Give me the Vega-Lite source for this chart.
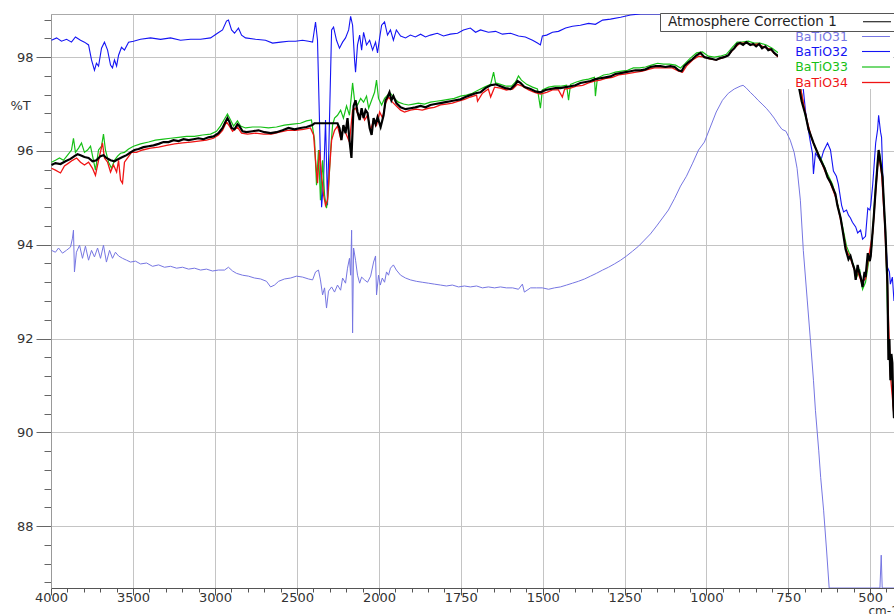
{
"$schema": "https://vega.github.io/schema/vega-lite/v6.json",
"width": 843, "height": 574,
"autosize": "none",
"padding": {"left": 51, "top": 14, "right": 0, "bottom": 26},
"background": "white",
"config": {"font": "DejaVu Sans", "view": {"stroke": "#aaaaaa", "strokeWidth": 1}, "axis": {"labelFont": "DejaVu Sans", "titleFont": "DejaVu Sans"}, "legend": {"labelFont": "DejaVu Sans"}},
"data": {"values": [
{"s":"BaTiO31","w":3997,"t":93.88},{"s":"BaTiO31","w":3973,"t":93.84},{"s":"BaTiO31","w":3954,"t":93.93},{"s":"BaTiO31","w":3930,"t":93.82},{"s":"BaTiO31","w":3906,"t":93.88},{"s":"BaTiO31","w":3881,"t":93.95},{"s":"BaTiO31","w":3869,"t":94.14},{"s":"BaTiO31","w":3863,"t":94.31},{"s":"BaTiO31","w":3857,"t":93.42},{"s":"BaTiO31","w":3845,"t":93.84},{"s":"BaTiO31","w":3826,"t":93.99},{"s":"BaTiO31","w":3808,"t":93.71},{"s":"BaTiO31","w":3790,"t":93.97},{"s":"BaTiO31","w":3771,"t":93.67},{"s":"BaTiO31","w":3753,"t":93.88},{"s":"BaTiO31","w":3735,"t":93.74},{"s":"BaTiO31","w":3716,"t":93.93},{"s":"BaTiO31","w":3698,"t":93.71},{"s":"BaTiO31","w":3680,"t":93.99},{"s":"BaTiO31","w":3662,"t":93.63},{"s":"BaTiO31","w":3643,"t":93.88},{"s":"BaTiO31","w":3625,"t":93.71},{"s":"BaTiO31","w":3607,"t":93.84},{"s":"BaTiO31","w":3588,"t":93.76},{"s":"BaTiO31","w":3564,"t":93.71},{"s":"BaTiO31","w":3539,"t":93.67},{"s":"BaTiO31","w":3515,"t":93.63},{"s":"BaTiO31","w":3485,"t":93.65},{"s":"BaTiO31","w":3454,"t":93.59},{"s":"BaTiO31","w":3417,"t":93.61},{"s":"BaTiO31","w":3381,"t":93.54},{"s":"BaTiO31","w":3344,"t":93.57},{"s":"BaTiO31","w":3308,"t":93.52},{"s":"BaTiO31","w":3271,"t":93.54},{"s":"BaTiO31","w":3234,"t":93.5},{"s":"BaTiO31","w":3198,"t":93.52},{"s":"BaTiO31","w":3161,"t":93.48},{"s":"BaTiO31","w":3125,"t":93.5},{"s":"BaTiO31","w":3088,"t":93.46},{"s":"BaTiO31","w":3052,"t":93.48},{"s":"BaTiO31","w":3015,"t":93.44},{"s":"BaTiO31","w":2979,"t":93.46},{"s":"BaTiO31","w":2942,"t":93.46},{"s":"BaTiO31","w":2918,"t":93.52},{"s":"BaTiO31","w":2893,"t":93.44},{"s":"BaTiO31","w":2869,"t":93.39},{"s":"BaTiO31","w":2832,"t":93.35},{"s":"BaTiO31","w":2796,"t":93.33},{"s":"BaTiO31","w":2759,"t":93.29},{"s":"BaTiO31","w":2722,"t":93.27},{"s":"BaTiO31","w":2686,"t":93.22},{"s":"BaTiO31","w":2661,"t":93.1},{"s":"BaTiO31","w":2637,"t":93.14},{"s":"BaTiO31","w":2612,"t":93.22},{"s":"BaTiO31","w":2576,"t":93.27},{"s":"BaTiO31","w":2539,"t":93.29},{"s":"BaTiO31","w":2503,"t":93.33},{"s":"BaTiO31","w":2466,"t":93.31},{"s":"BaTiO31","w":2430,"t":93.27},{"s":"BaTiO31","w":2405,"t":93.25},{"s":"BaTiO31","w":2387,"t":93.42},{"s":"BaTiO31","w":2369,"t":93.46},{"s":"BaTiO31","w":2357,"t":93.25},{"s":"BaTiO31","w":2344,"t":92.93},{"s":"BaTiO31","w":2332,"t":93.08},{"s":"BaTiO31","w":2320,"t":92.65},{"s":"BaTiO31","w":2308,"t":93.01},{"s":"BaTiO31","w":2289,"t":93.1},{"s":"BaTiO31","w":2271,"t":92.99},{"s":"BaTiO31","w":2253,"t":93.14},{"s":"BaTiO31","w":2234,"t":93.03},{"s":"BaTiO31","w":2222,"t":93.29},{"s":"BaTiO31","w":2204,"t":93.18},{"s":"BaTiO31","w":2192,"t":93.5},{"s":"BaTiO31","w":2180,"t":93.71},{"s":"BaTiO31","w":2173,"t":93.35},{"s":"BaTiO31","w":2167,"t":94.31},{"s":"BaTiO31","w":2161,"t":92.12},{"s":"BaTiO31","w":2155,"t":93.93},{"s":"BaTiO31","w":2143,"t":93.67},{"s":"BaTiO31","w":2131,"t":93.35},{"s":"BaTiO31","w":2118,"t":93.18},{"s":"BaTiO31","w":2106,"t":93.31},{"s":"BaTiO31","w":2088,"t":93.25},{"s":"BaTiO31","w":2070,"t":93.2},{"s":"BaTiO31","w":2051,"t":93.33},{"s":"BaTiO31","w":2033,"t":93.63},{"s":"BaTiO31","w":2021,"t":93.76},{"s":"BaTiO31","w":2015,"t":92.93},{"s":"BaTiO31","w":2003,"t":93.35},{"s":"BaTiO31","w":1996,"t":93.14},{"s":"BaTiO31","w":1990,"t":93.29},{"s":"BaTiO31","w":1983,"t":93.2},{"s":"BaTiO31","w":1977,"t":93.42},{"s":"BaTiO31","w":1971,"t":93.35},{"s":"BaTiO31","w":1965,"t":93.5},{"s":"BaTiO31","w":1956,"t":93.57},{"s":"BaTiO31","w":1947,"t":93.46},{"s":"BaTiO31","w":1934,"t":93.35},{"s":"BaTiO31","w":1919,"t":93.29},{"s":"BaTiO31","w":1904,"t":93.25},{"s":"BaTiO31","w":1886,"t":93.22},{"s":"BaTiO31","w":1868,"t":93.2},{"s":"BaTiO31","w":1849,"t":93.18},{"s":"BaTiO31","w":1831,"t":93.16},{"s":"BaTiO31","w":1812,"t":93.14},{"s":"BaTiO31","w":1794,"t":93.12},{"s":"BaTiO31","w":1776,"t":93.14},{"s":"BaTiO31","w":1757,"t":93.1},{"s":"BaTiO31","w":1739,"t":93.12},{"s":"BaTiO31","w":1721,"t":93.1},{"s":"BaTiO31","w":1702,"t":93.12},{"s":"BaTiO31","w":1684,"t":93.08},{"s":"BaTiO31","w":1666,"t":93.1},{"s":"BaTiO31","w":1647,"t":93.08},{"s":"BaTiO31","w":1629,"t":93.1},{"s":"BaTiO31","w":1611,"t":93.08},{"s":"BaTiO31","w":1592,"t":93.08},{"s":"BaTiO31","w":1574,"t":93.05},{"s":"BaTiO31","w":1562,"t":93.16},{"s":"BaTiO31","w":1556,"t":92.99},{"s":"BaTiO31","w":1537,"t":93.08},{"s":"BaTiO31","w":1519,"t":93.08},{"s":"BaTiO31","w":1501,"t":93.08},{"s":"BaTiO31","w":1482,"t":93.05},{"s":"BaTiO31","w":1464,"t":93.08},{"s":"BaTiO31","w":1446,"t":93.1},{"s":"BaTiO31","w":1427,"t":93.14},{"s":"BaTiO31","w":1409,"t":93.18},{"s":"BaTiO31","w":1391,"t":93.22},{"s":"BaTiO31","w":1372,"t":93.27},{"s":"BaTiO31","w":1354,"t":93.33},{"s":"BaTiO31","w":1336,"t":93.39},{"s":"BaTiO31","w":1317,"t":93.46},{"s":"BaTiO31","w":1299,"t":93.52},{"s":"BaTiO31","w":1281,"t":93.59},{"s":"BaTiO31","w":1262,"t":93.67},{"s":"BaTiO31","w":1244,"t":93.76},{"s":"BaTiO31","w":1226,"t":93.86},{"s":"BaTiO31","w":1207,"t":93.97},{"s":"BaTiO31","w":1189,"t":94.1},{"s":"BaTiO31","w":1171,"t":94.23},{"s":"BaTiO31","w":1152,"t":94.4},{"s":"BaTiO31","w":1134,"t":94.57},{"s":"BaTiO31","w":1116,"t":94.74},{"s":"BaTiO31","w":1097,"t":94.99},{"s":"BaTiO31","w":1079,"t":95.25},{"s":"BaTiO31","w":1061,"t":95.46},{"s":"BaTiO31","w":1042,"t":95.74},{"s":"BaTiO31","w":1024,"t":96.02},{"s":"BaTiO31","w":1006,"t":96.19},{"s":"BaTiO31","w":988,"t":96.51},{"s":"BaTiO31","w":970,"t":96.83},{"s":"BaTiO31","w":951,"t":97.08},{"s":"BaTiO31","w":933,"t":97.23},{"s":"BaTiO31","w":915,"t":97.32},{"s":"BaTiO31","w":897,"t":97.38},{"s":"BaTiO31","w":888,"t":97.4},{"s":"BaTiO31","w":878,"t":97.34},{"s":"BaTiO31","w":866,"t":97.25},{"s":"BaTiO31","w":854,"t":97.17},{"s":"BaTiO31","w":842,"t":97.08},{"s":"BaTiO31","w":830,"t":97.0},{"s":"BaTiO31","w":817,"t":96.91},{"s":"BaTiO31","w":805,"t":96.81},{"s":"BaTiO31","w":793,"t":96.7},{"s":"BaTiO31","w":781,"t":96.57},{"s":"BaTiO31","w":769,"t":96.46},{"s":"BaTiO31","w":757,"t":96.42},{"s":"BaTiO31","w":744,"t":96.23},{"s":"BaTiO31","w":732,"t":95.97},{"s":"BaTiO31","w":723,"t":95.63},{"s":"BaTiO31","w":713,"t":94.95},{"s":"BaTiO31","w":704,"t":93.88},{"s":"BaTiO31","w":692,"t":92.82},{"s":"BaTiO31","w":683,"t":92.03},{"s":"BaTiO31","w":673,"t":91.11},{"s":"BaTiO31","w":667,"t":90.47},{"s":"BaTiO31","w":657,"t":89.62},{"s":"BaTiO31","w":651,"t":89.04},{"s":"BaTiO31","w":642,"t":88.34},{"s":"BaTiO31","w":633,"t":87.49},{"s":"BaTiO31","w":625,"t":86.5},{"s":"BaTiO31","w":610,"t":86.2},{"s":"BaTiO31","w":470,"t":86.2},{"s":"BaTiO31","w":466,"t":87.38},{"s":"BaTiO31","w":463,"t":86.2},{"s":"BaTiO31","w":426,"t":86.2},
{"s":"BaTiO32","w":3997,"t":98.36},{"s":"BaTiO32","w":3966,"t":98.41},{"s":"BaTiO32","w":3936,"t":98.34},{"s":"BaTiO32","w":3905,"t":98.38},{"s":"BaTiO32","w":3875,"t":98.32},{"s":"BaTiO32","w":3851,"t":98.43},{"s":"BaTiO32","w":3820,"t":98.36},{"s":"BaTiO32","w":3796,"t":98.32},{"s":"BaTiO32","w":3771,"t":98.26},{"s":"BaTiO32","w":3753,"t":97.94},{"s":"BaTiO32","w":3735,"t":97.72},{"s":"BaTiO32","w":3723,"t":97.87},{"s":"BaTiO32","w":3710,"t":97.81},{"s":"BaTiO32","w":3692,"t":98.19},{"s":"BaTiO32","w":3674,"t":98.32},{"s":"BaTiO32","w":3655,"t":98.15},{"s":"BaTiO32","w":3637,"t":97.83},{"s":"BaTiO32","w":3625,"t":97.77},{"s":"BaTiO32","w":3613,"t":97.94},{"s":"BaTiO32","w":3600,"t":97.81},{"s":"BaTiO32","w":3588,"t":98.04},{"s":"BaTiO32","w":3570,"t":98.21},{"s":"BaTiO32","w":3552,"t":98.15},{"s":"BaTiO32","w":3527,"t":98.32},{"s":"BaTiO32","w":3497,"t":98.34},{"s":"BaTiO32","w":3454,"t":98.38},{"s":"BaTiO32","w":3393,"t":98.41},{"s":"BaTiO32","w":3332,"t":98.38},{"s":"BaTiO32","w":3271,"t":98.41},{"s":"BaTiO32","w":3210,"t":98.36},{"s":"BaTiO32","w":3149,"t":98.38},{"s":"BaTiO32","w":3088,"t":98.38},{"s":"BaTiO32","w":3027,"t":98.41},{"s":"BaTiO32","w":2985,"t":98.51},{"s":"BaTiO32","w":2954,"t":98.58},{"s":"BaTiO32","w":2930,"t":98.77},{"s":"BaTiO32","w":2918,"t":98.79},{"s":"BaTiO32","w":2899,"t":98.58},{"s":"BaTiO32","w":2881,"t":98.51},{"s":"BaTiO32","w":2857,"t":98.62},{"s":"BaTiO32","w":2838,"t":98.47},{"s":"BaTiO32","w":2814,"t":98.41},{"s":"BaTiO32","w":2753,"t":98.38},{"s":"BaTiO32","w":2692,"t":98.36},{"s":"BaTiO32","w":2649,"t":98.3},{"s":"BaTiO32","w":2600,"t":98.32},{"s":"BaTiO32","w":2551,"t":98.34},{"s":"BaTiO32","w":2509,"t":98.34},{"s":"BaTiO32","w":2466,"t":98.36},{"s":"BaTiO32","w":2430,"t":98.34},{"s":"BaTiO32","w":2405,"t":98.32},{"s":"BaTiO32","w":2387,"t":98.75},{"s":"BaTiO32","w":2375,"t":98.36},{"s":"BaTiO32","w":2363,"t":96.66},{"s":"BaTiO32","w":2350,"t":94.8},{"s":"BaTiO32","w":2338,"t":95.38},{"s":"BaTiO32","w":2326,"t":96.66},{"s":"BaTiO32","w":2314,"t":94.84},{"s":"BaTiO32","w":2302,"t":96.66},{"s":"BaTiO32","w":2289,"t":98.58},{"s":"BaTiO32","w":2277,"t":98.64},{"s":"BaTiO32","w":2259,"t":98.36},{"s":"BaTiO32","w":2241,"t":98.19},{"s":"BaTiO32","w":2222,"t":98.32},{"s":"BaTiO32","w":2204,"t":98.41},{"s":"BaTiO32","w":2185,"t":98.58},{"s":"BaTiO32","w":2173,"t":98.87},{"s":"BaTiO32","w":2161,"t":98.68},{"s":"BaTiO32","w":2149,"t":97.94},{"s":"BaTiO32","w":2143,"t":97.68},{"s":"BaTiO32","w":2131,"t":98.26},{"s":"BaTiO32","w":2118,"t":98.47},{"s":"BaTiO32","w":2106,"t":98.15},{"s":"BaTiO32","w":2094,"t":98.53},{"s":"BaTiO32","w":2076,"t":98.26},{"s":"BaTiO32","w":2057,"t":98.36},{"s":"BaTiO32","w":2039,"t":98.15},{"s":"BaTiO32","w":2021,"t":98.32},{"s":"BaTiO32","w":2009,"t":98.09},{"s":"BaTiO32","w":1998,"t":98.41},{"s":"BaTiO32","w":1992,"t":98.68},{"s":"BaTiO32","w":1983,"t":98.75},{"s":"BaTiO32","w":1974,"t":98.47},{"s":"BaTiO32","w":1965,"t":98.58},{"s":"BaTiO32","w":1956,"t":98.36},{"s":"BaTiO32","w":1947,"t":98.58},{"s":"BaTiO32","w":1934,"t":98.45},{"s":"BaTiO32","w":1919,"t":98.41},{"s":"BaTiO32","w":1904,"t":98.47},{"s":"BaTiO32","w":1889,"t":98.43},{"s":"BaTiO32","w":1873,"t":98.49},{"s":"BaTiO32","w":1858,"t":98.43},{"s":"BaTiO32","w":1843,"t":98.47},{"s":"BaTiO32","w":1822,"t":98.51},{"s":"BaTiO32","w":1803,"t":98.45},{"s":"BaTiO32","w":1782,"t":98.49},{"s":"BaTiO32","w":1760,"t":98.51},{"s":"BaTiO32","w":1742,"t":98.58},{"s":"BaTiO32","w":1721,"t":98.62},{"s":"BaTiO32","w":1705,"t":98.53},{"s":"BaTiO32","w":1690,"t":98.58},{"s":"BaTiO32","w":1666,"t":98.53},{"s":"BaTiO32","w":1644,"t":98.55},{"s":"BaTiO32","w":1623,"t":98.49},{"s":"BaTiO32","w":1598,"t":98.51},{"s":"BaTiO32","w":1574,"t":98.45},{"s":"BaTiO32","w":1553,"t":98.43},{"s":"BaTiO32","w":1531,"t":98.36},{"s":"BaTiO32","w":1516,"t":98.3},{"s":"BaTiO32","w":1507,"t":98.26},{"s":"BaTiO32","w":1501,"t":98.45},{"s":"BaTiO32","w":1488,"t":98.47},{"s":"BaTiO32","w":1470,"t":98.53},{"s":"BaTiO32","w":1452,"t":98.55},{"s":"BaTiO32","w":1430,"t":98.62},{"s":"BaTiO32","w":1409,"t":98.66},{"s":"BaTiO32","w":1385,"t":98.68},{"s":"BaTiO32","w":1360,"t":98.72},{"s":"BaTiO32","w":1339,"t":98.7},{"s":"BaTiO32","w":1317,"t":98.79},{"s":"BaTiO32","w":1293,"t":98.81},{"s":"BaTiO32","w":1262,"t":98.85},{"s":"BaTiO32","w":1232,"t":98.9},{"s":"BaTiO32","w":1201,"t":98.92},{"s":"BaTiO32","w":1171,"t":98.96},{"s":"BaTiO32","w":1140,"t":99.05},{"s":"BaTiO32","w":1018,"t":99.2},{"s":"BaTiO32","w":835,"t":99.2},{"s":"BaTiO32","w":725,"t":99.2},{"s":"BaTiO32","w":712,"t":97.53},{"s":"BaTiO32","w":706,"t":97.45},{"s":"BaTiO32","w":697,"t":96.83},{"s":"BaTiO32","w":691,"t":96.55},{"s":"BaTiO32","w":682,"t":96.17},{"s":"BaTiO32","w":676,"t":95.95},{"s":"BaTiO32","w":673,"t":95.51},{"s":"BaTiO32","w":667,"t":95.95},{"s":"BaTiO32","w":657,"t":95.85},{"s":"BaTiO32","w":651,"t":95.78},{"s":"BaTiO32","w":642,"t":96.0},{"s":"BaTiO32","w":630,"t":96.17},{"s":"BaTiO32","w":621,"t":96.02},{"s":"BaTiO32","w":612,"t":95.57},{"s":"BaTiO32","w":603,"t":95.46},{"s":"BaTiO32","w":597,"t":95.29},{"s":"BaTiO32","w":587,"t":94.84},{"s":"BaTiO32","w":581,"t":94.7},{"s":"BaTiO32","w":572,"t":94.74},{"s":"BaTiO32","w":566,"t":94.63},{"s":"BaTiO32","w":560,"t":94.57},{"s":"BaTiO32","w":554,"t":94.48},{"s":"BaTiO32","w":544,"t":94.38},{"s":"BaTiO32","w":538,"t":94.25},{"s":"BaTiO32","w":529,"t":94.31},{"s":"BaTiO32","w":523,"t":94.12},{"s":"BaTiO32","w":514,"t":94.18},{"s":"BaTiO32","w":507,"t":94.78},{"s":"BaTiO32","w":501,"t":94.74},{"s":"BaTiO32","w":498,"t":94.84},{"s":"BaTiO32","w":492,"t":95.29},{"s":"BaTiO32","w":489,"t":95.57},{"s":"BaTiO32","w":483,"t":96.17},{"s":"BaTiO32","w":477,"t":96.46},{"s":"BaTiO32","w":474,"t":96.76},{"s":"BaTiO32","w":468,"t":96.4},{"s":"BaTiO32","w":465,"t":96.29},{"s":"BaTiO32","w":459,"t":95.01},{"s":"BaTiO32","w":453,"t":94.18},{"s":"BaTiO32","w":447,"t":93.52},{"s":"BaTiO32","w":441,"t":93.42},{"s":"BaTiO32","w":438,"t":93.16},{"s":"BaTiO32","w":432,"t":93.31},{"s":"BaTiO32","w":427,"t":92.8},
{"s":"BaTiO33","w":3997,"t":95.76},{"s":"BaTiO33","w":3973,"t":95.8},{"s":"BaTiO33","w":3948,"t":95.85},{"s":"BaTiO33","w":3924,"t":95.8},{"s":"BaTiO33","w":3899,"t":95.91},{"s":"BaTiO33","w":3875,"t":96.02},{"s":"BaTiO33","w":3863,"t":96.27},{"s":"BaTiO33","w":3851,"t":95.97},{"s":"BaTiO33","w":3832,"t":96.06},{"s":"BaTiO33","w":3814,"t":96.17},{"s":"BaTiO33","w":3796,"t":95.97},{"s":"BaTiO33","w":3777,"t":96.02},{"s":"BaTiO33","w":3759,"t":96.1},{"s":"BaTiO33","w":3741,"t":95.8},{"s":"BaTiO33","w":3729,"t":95.59},{"s":"BaTiO33","w":3710,"t":96.02},{"s":"BaTiO33","w":3692,"t":96.1},{"s":"BaTiO33","w":3680,"t":96.36},{"s":"BaTiO33","w":3668,"t":96.02},{"s":"BaTiO33","w":3649,"t":95.76},{"s":"BaTiO33","w":3631,"t":95.63},{"s":"BaTiO33","w":3613,"t":95.8},{"s":"BaTiO33","w":3594,"t":95.89},{"s":"BaTiO33","w":3576,"t":95.95},{"s":"BaTiO33","w":3552,"t":95.97},{"s":"BaTiO33","w":3527,"t":96.04},{"s":"BaTiO33","w":3497,"t":96.1},{"s":"BaTiO33","w":3454,"t":96.15},{"s":"BaTiO33","w":3405,"t":96.19},{"s":"BaTiO33","w":3363,"t":96.23},{"s":"BaTiO33","w":3314,"t":96.25},{"s":"BaTiO33","w":3271,"t":96.27},{"s":"BaTiO33","w":3222,"t":96.29},{"s":"BaTiO33","w":3173,"t":96.31},{"s":"BaTiO33","w":3125,"t":96.31},{"s":"BaTiO33","w":3076,"t":96.34},{"s":"BaTiO33","w":3027,"t":96.36},{"s":"BaTiO33","w":2991,"t":96.42},{"s":"BaTiO33","w":2967,"t":96.53},{"s":"BaTiO33","w":2942,"t":96.68},{"s":"BaTiO33","w":2924,"t":96.79},{"s":"BaTiO33","w":2905,"t":96.66},{"s":"BaTiO33","w":2887,"t":96.53},{"s":"BaTiO33","w":2863,"t":96.64},{"s":"BaTiO33","w":2844,"t":96.53},{"s":"BaTiO33","w":2814,"t":96.49},{"s":"BaTiO33","w":2771,"t":96.51},{"s":"BaTiO33","w":2722,"t":96.51},{"s":"BaTiO33","w":2674,"t":96.49},{"s":"BaTiO33","w":2625,"t":96.51},{"s":"BaTiO33","w":2577,"t":96.55},{"s":"BaTiO33","w":2527,"t":96.57},{"s":"BaTiO33","w":2479,"t":96.59},{"s":"BaTiO33","w":2442,"t":96.64},{"s":"BaTiO33","w":2412,"t":96.66},{"s":"BaTiO33","w":2393,"t":96.23},{"s":"BaTiO33","w":2381,"t":95.27},{"s":"BaTiO33","w":2369,"t":96.02},{"s":"BaTiO33","w":2357,"t":94.95},{"s":"BaTiO33","w":2344,"t":95.8},{"s":"BaTiO33","w":2332,"t":95.06},{"s":"BaTiO33","w":2320,"t":94.78},{"s":"BaTiO33","w":2308,"t":95.16},{"s":"BaTiO33","w":2296,"t":95.97},{"s":"BaTiO33","w":2283,"t":96.55},{"s":"BaTiO33","w":2271,"t":96.7},{"s":"BaTiO33","w":2253,"t":96.76},{"s":"BaTiO33","w":2234,"t":96.87},{"s":"BaTiO33","w":2217,"t":96.7},{"s":"BaTiO33","w":2198,"t":96.96},{"s":"BaTiO33","w":2180,"t":96.76},{"s":"BaTiO33","w":2168,"t":97.19},{"s":"BaTiO33","w":2161,"t":97.45},{"s":"BaTiO33","w":2149,"t":97.08},{"s":"BaTiO33","w":2131,"t":96.98},{"s":"BaTiO33","w":2112,"t":97.12},{"s":"BaTiO33","w":2094,"t":97.04},{"s":"BaTiO33","w":2076,"t":97.17},{"s":"BaTiO33","w":2063,"t":96.91},{"s":"BaTiO33","w":2045,"t":97.08},{"s":"BaTiO33","w":2027,"t":97.25},{"s":"BaTiO33","w":2015,"t":97.51},{"s":"BaTiO33","w":2003,"t":97.12},{"s":"BaTiO33","w":1992,"t":96.98},{"s":"BaTiO33","w":1983,"t":97.12},{"s":"BaTiO33","w":1974,"t":97.19},{"s":"BaTiO33","w":1965,"t":97.23},{"s":"BaTiO33","w":1953,"t":97.12},{"s":"BaTiO33","w":1941,"t":97.04},{"s":"BaTiO33","w":1925,"t":97.0},{"s":"BaTiO33","w":1910,"t":96.98},{"s":"BaTiO33","w":1895,"t":97.0},{"s":"BaTiO33","w":1880,"t":97.02},{"s":"BaTiO33","w":1861,"t":97.0},{"s":"BaTiO33","w":1843,"t":97.04},{"s":"BaTiO33","w":1825,"t":97.06},{"s":"BaTiO33","w":1806,"t":97.08},{"s":"BaTiO33","w":1788,"t":97.1},{"s":"BaTiO33","w":1770,"t":97.12},{"s":"BaTiO33","w":1751,"t":97.17},{"s":"BaTiO33","w":1733,"t":97.19},{"s":"BaTiO33","w":1715,"t":97.23},{"s":"BaTiO33","w":1696,"t":97.3},{"s":"BaTiO33","w":1678,"t":97.36},{"s":"BaTiO33","w":1659,"t":97.42},{"s":"BaTiO33","w":1650,"t":97.68},{"s":"BaTiO33","w":1644,"t":97.45},{"s":"BaTiO33","w":1629,"t":97.42},{"s":"BaTiO33","w":1611,"t":97.38},{"s":"BaTiO33","w":1595,"t":97.38},{"s":"BaTiO33","w":1583,"t":97.47},{"s":"BaTiO33","w":1574,"t":97.6},{"s":"BaTiO33","w":1565,"t":97.51},{"s":"BaTiO33","w":1549,"t":97.42},{"s":"BaTiO33","w":1531,"t":97.36},{"s":"BaTiO33","w":1516,"t":97.32},{"s":"BaTiO33","w":1507,"t":96.91},{"s":"BaTiO33","w":1501,"t":97.3},{"s":"BaTiO33","w":1482,"t":97.36},{"s":"BaTiO33","w":1464,"t":97.38},{"s":"BaTiO33","w":1446,"t":97.38},{"s":"BaTiO33","w":1427,"t":97.4},{"s":"BaTiO33","w":1421,"t":97.08},{"s":"BaTiO33","w":1415,"t":97.42},{"s":"BaTiO33","w":1397,"t":97.47},{"s":"BaTiO33","w":1378,"t":97.51},{"s":"BaTiO33","w":1360,"t":97.53},{"s":"BaTiO33","w":1342,"t":97.57},{"s":"BaTiO33","w":1339,"t":97.17},{"s":"BaTiO33","w":1333,"t":97.55},{"s":"BaTiO33","w":1314,"t":97.62},{"s":"BaTiO33","w":1296,"t":97.64},{"s":"BaTiO33","w":1278,"t":97.68},{"s":"BaTiO33","w":1259,"t":97.7},{"s":"BaTiO33","w":1241,"t":97.72},{"s":"BaTiO33","w":1223,"t":97.77},{"s":"BaTiO33","w":1204,"t":97.77},{"s":"BaTiO33","w":1186,"t":97.79},{"s":"BaTiO33","w":1168,"t":97.83},{"s":"BaTiO33","w":1149,"t":97.87},{"s":"BaTiO33","w":1131,"t":97.85},{"s":"BaTiO33","w":1113,"t":97.85},{"s":"BaTiO33","w":1094,"t":97.83},{"s":"BaTiO33","w":1079,"t":97.77},{"s":"BaTiO33","w":1067,"t":97.85},{"s":"BaTiO33","w":1049,"t":97.98},{"s":"BaTiO33","w":1030,"t":98.09},{"s":"BaTiO33","w":1012,"t":98.11},{"s":"BaTiO33","w":994,"t":98.02},{"s":"BaTiO33","w":976,"t":98.0},{"s":"BaTiO33","w":958,"t":98.02},{"s":"BaTiO33","w":939,"t":98.06},{"s":"BaTiO33","w":921,"t":98.21},{"s":"BaTiO33","w":906,"t":98.32},{"s":"BaTiO33","w":891,"t":98.32},{"s":"BaTiO33","w":872,"t":98.34},{"s":"BaTiO33","w":854,"t":98.3},{"s":"BaTiO33","w":836,"t":98.3},{"s":"BaTiO33","w":817,"t":98.26},{"s":"BaTiO33","w":799,"t":98.19},{"s":"BaTiO33","w":784,"t":98.11},{"s":"BaTiO33","w":759,"t":97.98},{"s":"BaTiO33","w":728,"t":97.72},{"s":"BaTiO33","w":713,"t":97.38},{"s":"BaTiO33","w":697,"t":96.72},{"s":"BaTiO33","w":682,"t":96.34},{"s":"BaTiO33","w":667,"t":96.06},{"s":"BaTiO33","w":651,"t":95.85},{"s":"BaTiO33","w":633,"t":95.55},{"s":"BaTiO33","w":615,"t":95.29},{"s":"BaTiO33","w":600,"t":94.89},{"s":"BaTiO33","w":584,"t":94.38},{"s":"BaTiO33","w":572,"t":93.97},{"s":"BaTiO33","w":560,"t":93.76},{"s":"BaTiO33","w":551,"t":93.57},{"s":"BaTiO33","w":541,"t":93.31},{"s":"BaTiO33","w":532,"t":93.48},{"s":"BaTiO33","w":523,"t":93.05},{"s":"BaTiO33","w":514,"t":93.2},{"s":"BaTiO33","w":504,"t":93.65},{"s":"BaTiO33","w":495,"t":93.97},{"s":"BaTiO33","w":486,"t":94.97},{"s":"BaTiO33","w":477,"t":95.78},{"s":"BaTiO33","w":471,"t":95.95},{"s":"BaTiO33","w":462,"t":95.46},{"s":"BaTiO33","w":453,"t":94.31},{"s":"BaTiO33","w":444,"t":91.77},{"s":"BaTiO33","w":435,"t":91.43},{"s":"BaTiO33","w":427,"t":90.35},
{"s":"BaTiO34","w":3997,"t":95.63},{"s":"BaTiO34","w":3973,"t":95.59},{"s":"BaTiO34","w":3942,"t":95.53},{"s":"BaTiO34","w":3918,"t":95.68},{"s":"BaTiO34","w":3893,"t":95.74},{"s":"BaTiO34","w":3869,"t":95.8},{"s":"BaTiO34","w":3844,"t":95.85},{"s":"BaTiO34","w":3820,"t":95.76},{"s":"BaTiO34","w":3796,"t":95.7},{"s":"BaTiO34","w":3771,"t":95.76},{"s":"BaTiO34","w":3747,"t":95.63},{"s":"BaTiO34","w":3729,"t":95.48},{"s":"BaTiO34","w":3710,"t":95.8},{"s":"BaTiO34","w":3686,"t":96.17},{"s":"BaTiO34","w":3674,"t":95.85},{"s":"BaTiO34","w":3655,"t":95.76},{"s":"BaTiO34","w":3637,"t":95.55},{"s":"BaTiO34","w":3619,"t":95.7},{"s":"BaTiO34","w":3600,"t":95.55},{"s":"BaTiO34","w":3588,"t":95.8},{"s":"BaTiO34","w":3576,"t":95.38},{"s":"BaTiO34","w":3564,"t":95.31},{"s":"BaTiO34","w":3552,"t":95.76},{"s":"BaTiO34","w":3533,"t":95.85},{"s":"BaTiO34","w":3509,"t":95.97},{"s":"BaTiO34","w":3479,"t":95.97},{"s":"BaTiO34","w":3442,"t":96.02},{"s":"BaTiO34","w":3393,"t":96.06},{"s":"BaTiO34","w":3344,"t":96.08},{"s":"BaTiO34","w":3295,"t":96.12},{"s":"BaTiO34","w":3246,"t":96.15},{"s":"BaTiO34","w":3198,"t":96.17},{"s":"BaTiO34","w":3149,"t":96.19},{"s":"BaTiO34","w":3101,"t":96.21},{"s":"BaTiO34","w":3052,"t":96.23},{"s":"BaTiO34","w":3009,"t":96.27},{"s":"BaTiO34","w":2979,"t":96.34},{"s":"BaTiO34","w":2954,"t":96.44},{"s":"BaTiO34","w":2930,"t":96.62},{"s":"BaTiO34","w":2912,"t":96.53},{"s":"BaTiO34","w":2893,"t":96.42},{"s":"BaTiO34","w":2863,"t":96.51},{"s":"BaTiO34","w":2838,"t":96.38},{"s":"BaTiO34","w":2802,"t":96.36},{"s":"BaTiO34","w":2753,"t":96.38},{"s":"BaTiO34","w":2704,"t":96.36},{"s":"BaTiO34","w":2655,"t":96.36},{"s":"BaTiO34","w":2606,"t":96.4},{"s":"BaTiO34","w":2558,"t":96.44},{"s":"BaTiO34","w":2509,"t":96.44},{"s":"BaTiO34","w":2460,"t":96.46},{"s":"BaTiO34","w":2418,"t":96.49},{"s":"BaTiO34","w":2399,"t":96.34},{"s":"BaTiO34","w":2387,"t":95.8},{"s":"BaTiO34","w":2375,"t":95.31},{"s":"BaTiO34","w":2363,"t":96.02},{"s":"BaTiO34","w":2350,"t":95.48},{"s":"BaTiO34","w":2338,"t":95.06},{"s":"BaTiO34","w":2326,"t":94.84},{"s":"BaTiO34","w":2314,"t":94.95},{"s":"BaTiO34","w":2302,"t":95.59},{"s":"BaTiO34","w":2289,"t":96.23},{"s":"BaTiO34","w":2271,"t":96.44},{"s":"BaTiO34","w":2253,"t":96.53},{"s":"BaTiO34","w":2234,"t":96.27},{"s":"BaTiO34","w":2217,"t":96.49},{"s":"BaTiO34","w":2198,"t":96.34},{"s":"BaTiO34","w":2180,"t":96.19},{"s":"BaTiO34","w":2161,"t":96.87},{"s":"BaTiO34","w":2143,"t":96.91},{"s":"BaTiO34","w":2124,"t":96.74},{"s":"BaTiO34","w":2106,"t":96.83},{"s":"BaTiO34","w":2088,"t":96.66},{"s":"BaTiO34","w":2070,"t":96.76},{"s":"BaTiO34","w":2051,"t":96.44},{"s":"BaTiO34","w":2033,"t":96.66},{"s":"BaTiO34","w":2015,"t":96.55},{"s":"BaTiO34","w":1998,"t":96.83},{"s":"BaTiO34","w":1989,"t":96.7},{"s":"BaTiO34","w":1980,"t":97.02},{"s":"BaTiO34","w":1971,"t":97.15},{"s":"BaTiO34","w":1959,"t":97.04},{"s":"BaTiO34","w":1947,"t":96.96},{"s":"BaTiO34","w":1934,"t":96.87},{"s":"BaTiO34","w":1922,"t":96.83},{"s":"BaTiO34","w":1904,"t":96.87},{"s":"BaTiO34","w":1886,"t":96.89},{"s":"BaTiO34","w":1868,"t":96.87},{"s":"BaTiO34","w":1849,"t":96.91},{"s":"BaTiO34","w":1831,"t":96.93},{"s":"BaTiO34","w":1812,"t":96.98},{"s":"BaTiO34","w":1794,"t":97.0},{"s":"BaTiO34","w":1776,"t":97.02},{"s":"BaTiO34","w":1757,"t":97.06},{"s":"BaTiO34","w":1739,"t":97.1},{"s":"BaTiO34","w":1721,"t":97.15},{"s":"BaTiO34","w":1702,"t":97.19},{"s":"BaTiO34","w":1699,"t":97.06},{"s":"BaTiO34","w":1684,"t":97.23},{"s":"BaTiO34","w":1666,"t":97.32},{"s":"BaTiO34","w":1659,"t":97.15},{"s":"BaTiO34","w":1647,"t":97.36},{"s":"BaTiO34","w":1629,"t":97.34},{"s":"BaTiO34","w":1611,"t":97.3},{"s":"BaTiO34","w":1592,"t":97.32},{"s":"BaTiO34","w":1577,"t":97.42},{"s":"BaTiO34","w":1562,"t":97.38},{"s":"BaTiO34","w":1543,"t":97.3},{"s":"BaTiO34","w":1525,"t":97.25},{"s":"BaTiO34","w":1507,"t":97.21},{"s":"BaTiO34","w":1488,"t":97.25},{"s":"BaTiO34","w":1470,"t":97.3},{"s":"BaTiO34","w":1452,"t":97.3},{"s":"BaTiO34","w":1440,"t":97.15},{"s":"BaTiO34","w":1433,"t":97.32},{"s":"BaTiO34","w":1415,"t":97.34},{"s":"BaTiO34","w":1397,"t":97.38},{"s":"BaTiO34","w":1378,"t":97.4},{"s":"BaTiO34","w":1360,"t":97.45},{"s":"BaTiO34","w":1342,"t":97.49},{"s":"BaTiO34","w":1324,"t":97.51},{"s":"BaTiO34","w":1305,"t":97.55},{"s":"BaTiO34","w":1287,"t":97.57},{"s":"BaTiO34","w":1268,"t":97.62},{"s":"BaTiO34","w":1250,"t":97.64},{"s":"BaTiO34","w":1232,"t":97.66},{"s":"BaTiO34","w":1214,"t":97.68},{"s":"BaTiO34","w":1195,"t":97.7},{"s":"BaTiO34","w":1177,"t":97.74},{"s":"BaTiO34","w":1159,"t":97.77},{"s":"BaTiO34","w":1140,"t":97.77},{"s":"BaTiO34","w":1122,"t":97.77},{"s":"BaTiO34","w":1104,"t":97.77},{"s":"BaTiO34","w":1085,"t":97.7},{"s":"BaTiO34","w":1073,"t":97.68},{"s":"BaTiO34","w":1061,"t":97.81},{"s":"BaTiO34","w":1042,"t":97.94},{"s":"BaTiO34","w":1024,"t":98.02},{"s":"BaTiO34","w":1006,"t":98.0},{"s":"BaTiO34","w":988,"t":97.96},{"s":"BaTiO34","w":970,"t":97.94},{"s":"BaTiO34","w":952,"t":97.98},{"s":"BaTiO34","w":933,"t":98.04},{"s":"BaTiO34","w":915,"t":98.19},{"s":"BaTiO34","w":897,"t":98.3},{"s":"BaTiO34","w":878,"t":98.3},{"s":"BaTiO34","w":860,"t":98.26},{"s":"BaTiO34","w":842,"t":98.28},{"s":"BaTiO34","w":823,"t":98.21},{"s":"BaTiO34","w":805,"t":98.17},{"s":"BaTiO34","w":784,"t":98.02},{"s":"BaTiO34","w":759,"t":97.92},{"s":"BaTiO34","w":728,"t":97.66},{"s":"BaTiO34","w":713,"t":97.36},{"s":"BaTiO34","w":694,"t":96.68},{"s":"BaTiO34","w":676,"t":96.21},{"s":"BaTiO34","w":657,"t":95.91},{"s":"BaTiO34","w":639,"t":95.59},{"s":"BaTiO34","w":621,"t":95.31},{"s":"BaTiO34","w":603,"t":94.97},{"s":"BaTiO34","w":587,"t":94.42},{"s":"BaTiO34","w":572,"t":93.88},{"s":"BaTiO34","w":560,"t":93.71},{"s":"BaTiO34","w":548,"t":93.46},{"s":"BaTiO34","w":538,"t":93.42},{"s":"BaTiO34","w":526,"t":93.2},{"s":"BaTiO34","w":514,"t":93.27},{"s":"BaTiO34","w":504,"t":93.76},{"s":"BaTiO34","w":492,"t":94.25},{"s":"BaTiO34","w":483,"t":95.12},{"s":"BaTiO34","w":474,"t":95.95},{"s":"BaTiO34","w":465,"t":95.51},{"s":"BaTiO34","w":456,"t":94.52},{"s":"BaTiO34","w":447,"t":93.1},{"s":"BaTiO34","w":438,"t":91.22},{"s":"BaTiO34","w":427,"t":90.35},
{"s":"Atmosphere Correction 1","w":3997,"t":95.7},{"s":"Atmosphere Correction 1","w":3973,"t":95.74},{"s":"Atmosphere Correction 1","w":3942,"t":95.72},{"s":"Atmosphere Correction 1","w":3912,"t":95.78},{"s":"Atmosphere Correction 1","w":3881,"t":95.83},{"s":"Atmosphere Correction 1","w":3857,"t":95.89},{"s":"Atmosphere Correction 1","w":3838,"t":95.93},{"s":"Atmosphere Correction 1","w":3820,"t":95.91},{"s":"Atmosphere Correction 1","w":3796,"t":95.87},{"s":"Atmosphere Correction 1","w":3771,"t":95.85},{"s":"Atmosphere Correction 1","w":3747,"t":95.78},{"s":"Atmosphere Correction 1","w":3723,"t":95.8},{"s":"Atmosphere Correction 1","w":3698,"t":95.89},{"s":"Atmosphere Correction 1","w":3680,"t":95.91},{"s":"Atmosphere Correction 1","w":3662,"t":95.85},{"s":"Atmosphere Correction 1","w":3637,"t":95.8},{"s":"Atmosphere Correction 1","w":3613,"t":95.78},{"s":"Atmosphere Correction 1","w":3588,"t":95.83},{"s":"Atmosphere Correction 1","w":3564,"t":95.87},{"s":"Atmosphere Correction 1","w":3539,"t":95.91},{"s":"Atmosphere Correction 1","w":3515,"t":95.97},{"s":"Atmosphere Correction 1","w":3491,"t":96.02},{"s":"Atmosphere Correction 1","w":3466,"t":96.04},{"s":"Atmosphere Correction 1","w":3436,"t":96.08},{"s":"Atmosphere Correction 1","w":3405,"t":96.1},{"s":"Atmosphere Correction 1","w":3375,"t":96.12},{"s":"Atmosphere Correction 1","w":3344,"t":96.15},{"s":"Atmosphere Correction 1","w":3314,"t":96.19},{"s":"Atmosphere Correction 1","w":3283,"t":96.19},{"s":"Atmosphere Correction 1","w":3253,"t":96.23},{"s":"Atmosphere Correction 1","w":3222,"t":96.21},{"s":"Atmosphere Correction 1","w":3192,"t":96.25},{"s":"Atmosphere Correction 1","w":3161,"t":96.23},{"s":"Atmosphere Correction 1","w":3131,"t":96.25},{"s":"Atmosphere Correction 1","w":3101,"t":96.27},{"s":"Atmosphere Correction 1","w":3070,"t":96.25},{"s":"Atmosphere Correction 1","w":3040,"t":96.29},{"s":"Atmosphere Correction 1","w":3009,"t":96.31},{"s":"Atmosphere Correction 1","w":2979,"t":96.38},{"s":"Atmosphere Correction 1","w":2954,"t":96.49},{"s":"Atmosphere Correction 1","w":2936,"t":96.62},{"s":"Atmosphere Correction 1","w":2924,"t":96.7},{"s":"Atmosphere Correction 1","w":2912,"t":96.62},{"s":"Atmosphere Correction 1","w":2899,"t":96.49},{"s":"Atmosphere Correction 1","w":2881,"t":96.46},{"s":"Atmosphere Correction 1","w":2863,"t":96.57},{"s":"Atmosphere Correction 1","w":2851,"t":96.53},{"s":"Atmosphere Correction 1","w":2832,"t":96.42},{"s":"Atmosphere Correction 1","w":2808,"t":96.4},{"s":"Atmosphere Correction 1","w":2771,"t":96.42},{"s":"Atmosphere Correction 1","w":2735,"t":96.44},{"s":"Atmosphere Correction 1","w":2698,"t":96.4},{"s":"Atmosphere Correction 1","w":2661,"t":96.38},{"s":"Atmosphere Correction 1","w":2625,"t":96.4},{"s":"Atmosphere Correction 1","w":2588,"t":96.44},{"s":"Atmosphere Correction 1","w":2552,"t":96.49},{"s":"Atmosphere Correction 1","w":2515,"t":96.46},{"s":"Atmosphere Correction 1","w":2479,"t":96.49},{"s":"Atmosphere Correction 1","w":2442,"t":96.51},{"s":"Atmosphere Correction 1","w":2406,"t":96.55},{"s":"Atmosphere Correction 1","w":2393,"t":96.59},{"s":"Atmosphere Correction 1","w":2253,"t":96.59},{"s":"Atmosphere Correction 1","w":2241,"t":96.49},{"s":"Atmosphere Correction 1","w":2229,"t":96.23},{"s":"Atmosphere Correction 1","w":2217,"t":96.55},{"s":"Atmosphere Correction 1","w":2204,"t":96.38},{"s":"Atmosphere Correction 1","w":2192,"t":96.7},{"s":"Atmosphere Correction 1","w":2180,"t":96.23},{"s":"Atmosphere Correction 1","w":2168,"t":95.85},{"s":"Atmosphere Correction 1","w":2155,"t":96.96},{"s":"Atmosphere Correction 1","w":2143,"t":97.08},{"s":"Atmosphere Correction 1","w":2131,"t":96.83},{"s":"Atmosphere Correction 1","w":2118,"t":96.66},{"s":"Atmosphere Correction 1","w":2106,"t":96.91},{"s":"Atmosphere Correction 1","w":2094,"t":96.7},{"s":"Atmosphere Correction 1","w":2082,"t":96.87},{"s":"Atmosphere Correction 1","w":2070,"t":96.81},{"s":"Atmosphere Correction 1","w":2057,"t":96.49},{"s":"Atmosphere Correction 1","w":2045,"t":96.34},{"s":"Atmosphere Correction 1","w":2033,"t":96.7},{"s":"Atmosphere Correction 1","w":2021,"t":96.57},{"s":"Atmosphere Correction 1","w":2009,"t":96.72},{"s":"Atmosphere Correction 1","w":1995,"t":96.51},{"s":"Atmosphere Correction 1","w":1986,"t":96.76},{"s":"Atmosphere Correction 1","w":1980,"t":97.08},{"s":"Atmosphere Correction 1","w":1974,"t":97.15},{"s":"Atmosphere Correction 1","w":1968,"t":97.25},{"s":"Atmosphere Correction 1","w":1962,"t":97.08},{"s":"Atmosphere Correction 1","w":1956,"t":97.17},{"s":"Atmosphere Correction 1","w":1947,"t":97.02},{"s":"Atmosphere Correction 1","w":1934,"t":96.93},{"s":"Atmosphere Correction 1","w":1919,"t":96.89},{"s":"Atmosphere Correction 1","w":1904,"t":96.91},{"s":"Atmosphere Correction 1","w":1889,"t":96.93},{"s":"Atmosphere Correction 1","w":1873,"t":96.96},{"s":"Atmosphere Correction 1","w":1858,"t":96.93},{"s":"Atmosphere Correction 1","w":1843,"t":96.98},{"s":"Atmosphere Correction 1","w":1828,"t":97.0},{"s":"Atmosphere Correction 1","w":1812,"t":97.02},{"s":"Atmosphere Correction 1","w":1797,"t":97.04},{"s":"Atmosphere Correction 1","w":1782,"t":97.06},{"s":"Atmosphere Correction 1","w":1767,"t":97.08},{"s":"Atmosphere Correction 1","w":1751,"t":97.1},{"s":"Atmosphere Correction 1","w":1736,"t":97.15},{"s":"Atmosphere Correction 1","w":1721,"t":97.19},{"s":"Atmosphere Correction 1","w":1705,"t":97.23},{"s":"Atmosphere Correction 1","w":1690,"t":97.25},{"s":"Atmosphere Correction 1","w":1675,"t":97.34},{"s":"Atmosphere Correction 1","w":1659,"t":97.4},{"s":"Atmosphere Correction 1","w":1644,"t":97.42},{"s":"Atmosphere Correction 1","w":1629,"t":97.38},{"s":"Atmosphere Correction 1","w":1614,"t":97.34},{"s":"Atmosphere Correction 1","w":1598,"t":97.32},{"s":"Atmosphere Correction 1","w":1586,"t":97.4},{"s":"Atmosphere Correction 1","w":1577,"t":97.49},{"s":"Atmosphere Correction 1","w":1568,"t":97.45},{"s":"Atmosphere Correction 1","w":1555,"t":97.36},{"s":"Atmosphere Correction 1","w":1537,"t":97.32},{"s":"Atmosphere Correction 1","w":1522,"t":97.27},{"s":"Atmosphere Correction 1","w":1507,"t":97.25},{"s":"Atmosphere Correction 1","w":1491,"t":97.3},{"s":"Atmosphere Correction 1","w":1476,"t":97.32},{"s":"Atmosphere Correction 1","w":1461,"t":97.34},{"s":"Atmosphere Correction 1","w":1446,"t":97.34},{"s":"Atmosphere Correction 1","w":1430,"t":97.36},{"s":"Atmosphere Correction 1","w":1415,"t":97.38},{"s":"Atmosphere Correction 1","w":1400,"t":97.4},{"s":"Atmosphere Correction 1","w":1385,"t":97.45},{"s":"Atmosphere Correction 1","w":1369,"t":97.47},{"s":"Atmosphere Correction 1","w":1354,"t":97.49},{"s":"Atmosphere Correction 1","w":1339,"t":97.53},{"s":"Atmosphere Correction 1","w":1324,"t":97.55},{"s":"Atmosphere Correction 1","w":1308,"t":97.57},{"s":"Atmosphere Correction 1","w":1293,"t":97.59},{"s":"Atmosphere Correction 1","w":1278,"t":97.64},{"s":"Atmosphere Correction 1","w":1262,"t":97.66},{"s":"Atmosphere Correction 1","w":1247,"t":97.68},{"s":"Atmosphere Correction 1","w":1232,"t":97.7},{"s":"Atmosphere Correction 1","w":1217,"t":97.72},{"s":"Atmosphere Correction 1","w":1201,"t":97.72},{"s":"Atmosphere Correction 1","w":1186,"t":97.74},{"s":"Atmosphere Correction 1","w":1171,"t":97.79},{"s":"Atmosphere Correction 1","w":1155,"t":97.81},{"s":"Atmosphere Correction 1","w":1140,"t":97.81},{"s":"Atmosphere Correction 1","w":1125,"t":97.79},{"s":"Atmosphere Correction 1","w":1110,"t":97.81},{"s":"Atmosphere Correction 1","w":1097,"t":97.79},{"s":"Atmosphere Correction 1","w":1085,"t":97.72},{"s":"Atmosphere Correction 1","w":1076,"t":97.7},{"s":"Atmosphere Correction 1","w":1067,"t":97.81},{"s":"Atmosphere Correction 1","w":1055,"t":97.89},{"s":"Atmosphere Correction 1","w":1042,"t":97.96},{"s":"Atmosphere Correction 1","w":1030,"t":98.04},{"s":"Atmosphere Correction 1","w":1018,"t":98.09},{"s":"Atmosphere Correction 1","w":1006,"t":98.0},{"s":"Atmosphere Correction 1","w":994,"t":97.98},{"s":"Atmosphere Correction 1","w":982,"t":97.96},{"s":"Atmosphere Correction 1","w":970,"t":97.94},{"s":"Atmosphere Correction 1","w":958,"t":97.98},{"s":"Atmosphere Correction 1","w":946,"t":98.0},{"s":"Atmosphere Correction 1","w":933,"t":98.04},{"s":"Atmosphere Correction 1","w":924,"t":98.13},{"s":"Atmosphere Correction 1","w":915,"t":98.19},{"s":"Atmosphere Correction 1","w":906,"t":98.28},{"s":"Atmosphere Correction 1","w":897,"t":98.3},{"s":"Atmosphere Correction 1","w":888,"t":98.26},{"s":"Atmosphere Correction 1","w":878,"t":98.32},{"s":"Atmosphere Correction 1","w":866,"t":98.26},{"s":"Atmosphere Correction 1","w":857,"t":98.28},{"s":"Atmosphere Correction 1","w":848,"t":98.23},{"s":"Atmosphere Correction 1","w":839,"t":98.28},{"s":"Atmosphere Correction 1","w":830,"t":98.19},{"s":"Atmosphere Correction 1","w":820,"t":98.23},{"s":"Atmosphere Correction 1","w":811,"t":98.15},{"s":"Atmosphere Correction 1","w":802,"t":98.17},{"s":"Atmosphere Correction 1","w":793,"t":98.09},{"s":"Atmosphere Correction 1","w":784,"t":98.04},{"s":"Atmosphere Correction 1","w":774,"t":98.0},{"s":"Atmosphere Correction 1","w":759,"t":97.94},{"s":"Atmosphere Correction 1","w":743,"t":97.83},{"s":"Atmosphere Correction 1","w":728,"t":97.68},{"s":"Atmosphere Correction 1","w":719,"t":97.42},{"s":"Atmosphere Correction 1","w":709,"t":97.06},{"s":"Atmosphere Correction 1","w":697,"t":96.76},{"s":"Atmosphere Correction 1","w":688,"t":96.46},{"s":"Atmosphere Correction 1","w":679,"t":96.29},{"s":"Atmosphere Correction 1","w":673,"t":96.17},{"s":"Atmosphere Correction 1","w":660,"t":95.95},{"s":"Atmosphere Correction 1","w":651,"t":95.8},{"s":"Atmosphere Correction 1","w":639,"t":95.63},{"s":"Atmosphere Correction 1","w":630,"t":95.44},{"s":"Atmosphere Correction 1","w":621,"t":95.33},{"s":"Atmosphere Correction 1","w":615,"t":95.23},{"s":"Atmosphere Correction 1","w":606,"t":95.08},{"s":"Atmosphere Correction 1","w":600,"t":94.84},{"s":"Atmosphere Correction 1","w":590,"t":94.57},{"s":"Atmosphere Correction 1","w":584,"t":94.31},{"s":"Atmosphere Correction 1","w":575,"t":93.91},{"s":"Atmosphere Correction 1","w":566,"t":93.69},{"s":"Atmosphere Correction 1","w":560,"t":93.76},{"s":"Atmosphere Correction 1","w":554,"t":93.61},{"s":"Atmosphere Correction 1","w":548,"t":93.48},{"s":"Atmosphere Correction 1","w":544,"t":93.25},{"s":"Atmosphere Correction 1","w":538,"t":93.57},{"s":"Atmosphere Correction 1","w":535,"t":93.46},{"s":"Atmosphere Correction 1","w":529,"t":93.31},{"s":"Atmosphere Correction 1","w":523,"t":93.1},{"s":"Atmosphere Correction 1","w":517,"t":93.42},{"s":"Atmosphere Correction 1","w":514,"t":93.31},{"s":"Atmosphere Correction 1","w":507,"t":93.82},{"s":"Atmosphere Correction 1","w":501,"t":93.65},{"s":"Atmosphere Correction 1","w":498,"t":93.76},{"s":"Atmosphere Correction 1","w":492,"t":94.31},{"s":"Atmosphere Correction 1","w":489,"t":94.57},{"s":"Atmosphere Correction 1","w":483,"t":95.19},{"s":"Atmosphere Correction 1","w":477,"t":95.74},{"s":"Atmosphere Correction 1","w":474,"t":96.02},{"s":"Atmosphere Correction 1","w":468,"t":95.74},{"s":"Atmosphere Correction 1","w":462,"t":95.44},{"s":"Atmosphere Correction 1","w":456,"t":94.63},{"s":"Atmosphere Correction 1","w":453,"t":94.25},{"s":"Atmosphere Correction 1","w":447,"t":93.16},{"s":"Atmosphere Correction 1","w":444,"t":91.54},{"s":"Atmosphere Correction 1","w":441,"t":91.99},{"s":"Atmosphere Correction 1","w":438,"t":91.11},{"s":"Atmosphere Correction 1","w":435,"t":91.67},{"s":"Atmosphere Correction 1","w":432,"t":91.48},{"s":"Atmosphere Correction 1","w":429,"t":90.56},{"s":"Atmosphere Correction 1","w":427,"t":90.3}
]},
"encoding": {
  "x": {"field": "w", "type": "quantitative",
    "scale": {"type": "linear", "domain": [4000, 2000, 427], "range": [0, 328, 843], "nice": false, "zero": false},
    "axis": {
      "values": [4000,3900,3800,3700,3600,3500,3400,3300,3200,3100,3000,2900,2800,2700,2600,2500,2400,2300,2200,2100,2000,1950,1900,1850,1800,1750,1700,1650,1600,1550,1500,1450,1400,1350,1300,1250,1200,1150,1100,1050,1000,950,900,850,800,750,700,650,600,550,500,450],
      "labelExpr": "((datum.value >= 2000 && datum.value % 500 == 0) || (datum.value < 2000 && datum.value % 250 == 0)) ? format(datum.value, 'd') : ''",
      "labelFontSize": 13, "labelColor": "#333333", "labelPadding": -4, "labelFlush": false, "labelOverlap": false, "labelBound": false,
      "tickSize": {"condition": {"test": "(datum.value >= 2000 && datum.value % 500 == 0) || (datum.value < 2000 && datum.value % 250 == 0)", "value": 7}, "value": 4},
      "tickColor": "#555555", "domainColor": "#555555",
      "grid": true, "gridColor": "#c4c4c4",
      "gridOpacity": {"condition": {"test": "(datum.value >= 2000 && datum.value % 500 == 0) || (datum.value < 2000 && datum.value % 250 == 0)", "value": 1}, "value": 0},
      "title": "cm-1", "titleX": 817, "titleY": 22, "titleAlign": "left", "titleBaseline": "middle", "titleFontSize": 12, "titleFontWeight": "normal", "titleColor": "#333333"
    }
  },
  "y": {"field": "t", "type": "quantitative",
    "scale": {"domain": [86.68, 98.92], "nice": false, "zero": false, "clamp": true},
    "axis": {
      "values": [86.8,87.2,87.6,88,88.4,88.8,89.2,89.6,90,90.4,90.8,91.2,91.6,92,92.4,92.8,93.2,93.6,94,94.4,94.8,95.2,95.6,96,96.4,96.8,97.2,97.6,98,98.4,98.8],
      "labelExpr": "abs(datum.value/2 - round(datum.value/2)) < 0.01 ? format(datum.value, 'd') : ''",
      "labelFontSize": 13, "labelColor": "#333333", "labelPadding": 3, "labelOverlap": false, "labelBound": false, "labelFlush": false,
      "tickSize": {"condition": {"test": "abs(datum.value/2 - round(datum.value/2)) < 0.01", "value": 15}, "value": 7},
      "tickColor": "#666666", "domainColor": "#999999",
      "grid": true, "gridColor": "#c4c4c4",
      "gridOpacity": {"condition": {"test": "abs(datum.value/2 - round(datum.value/2)) < 0.01", "value": 1}, "value": 0},
      "title": "%T", "titleAngle": 0, "titleX": -41, "titleY": 91, "titleAlign": "left", "titleBaseline": "middle", "titleFontSize": 13, "titleFontWeight": "normal", "titleColor": "#333333"
    }
  }
},
"layer": [
  {
    "transform": [{"filter": "datum.s != 'Atmosphere Correction 1'"}],
    "mark": {"type": "line", "clip": true},
    "encoding": {
      "color": {"field": "s", "type": "nominal",
        "scale": {"domain": ["BaTiO31", "BaTiO32", "BaTiO33", "BaTiO34"], "range": ["#7676e2", "#1414f4", "#16c016", "#f01414"]},
        "legend": {"orient": "none", "legendX": 727, "legendY": 16, "title": null, "padding": 0, "fillColor": "white",
          "symbolType": "M-2.33,0H2.33", "symbolSize": 144, "symbolStrokeWidth": 1, "rowPadding": 1.5,
          "labelFontSize": 12.5, "labelLimit": 0,
          "encode": {"labels": {"update": {"x": {"value": 70}, "align": {"value": "right"}, "fill": {"scale": "color", "field": "value"}}},
                     "symbols": {"update": {"x": {"value": 98}}}}}
      },
      "strokeWidth": {"field": "s", "type": "nominal", "scale": {"domain": ["BaTiO31", "BaTiO32", "BaTiO33", "BaTiO34"], "range": [1, 1.3, 1.3, 1.3]}, "legend": null}
    }
  },
  {
    "transform": [{"filter": "datum.s == 'Atmosphere Correction 1'"}],
    "mark": {"type": "line", "clip": true, "strokeWidth": 2.2},
    "encoding": {
      "stroke": {"field": "s", "type": "nominal",
        "scale": {"domain": ["Atmosphere Correction 1"], "range": ["#000000"]},
        "legend": {"orient": "none", "legendX": 609, "legendY": -1, "title": null, "padding": 2, "strokeColor": "#555555", "fillColor": "white",
          "symbolType": "M-2.33,0H2.33", "symbolSize": 144, "symbolStrokeWidth": 1,
          "labelFontSize": 13.5, "labelColor": "#222222", "labelLimit": 0,
          "encode": {"labels": {"update": {"x": {"value": 6}, "align": {"value": "left"}}},
                     "symbols": {"update": {"x": {"value": 215}, "strokeWidth": {"value": 1}, "stroke": {"value": "#666666"}}}}}
      }
    }
  }
]
}
